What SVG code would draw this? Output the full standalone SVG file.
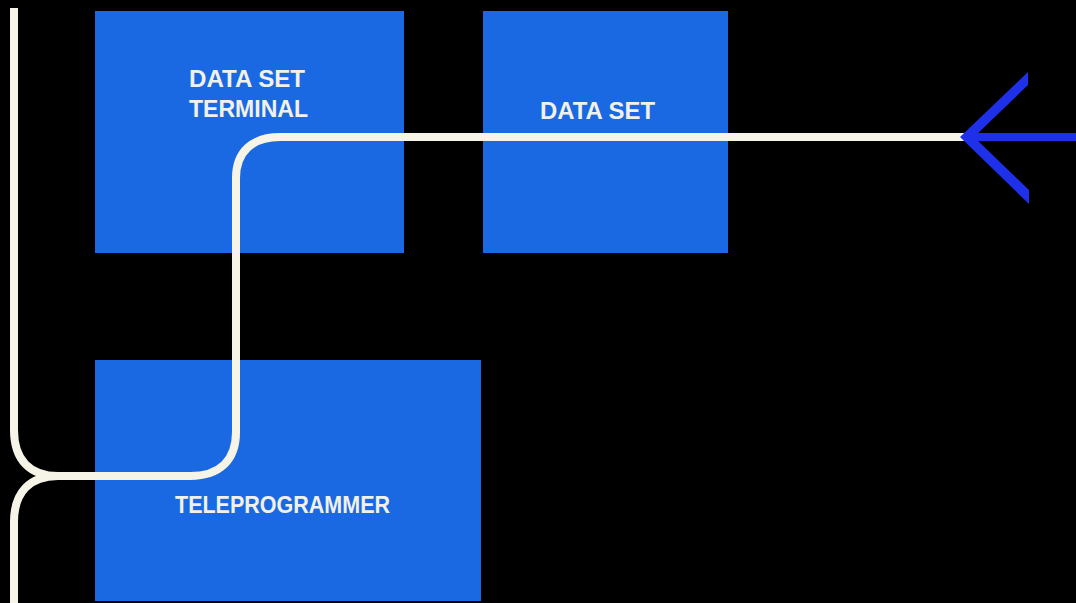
<svg xmlns="http://www.w3.org/2000/svg" width="1076" height="603" viewBox="0 0 1076 603">
<style>
.box{fill:#1b69e2}
.lbl{font-family:"Liberation Sans",Arial,sans-serif;font-weight:bold;font-size:24px;fill:#f2f1e8}
.wire{fill:none;stroke:#f6f4e6;stroke-width:8}
.blue{fill:none;stroke:#1e30ea;stroke-width:8}
</style>
<rect width="1076" height="603" fill="#000"/>
<g id="node-data-set-terminal">
<rect class="box" x="95" y="11" width="309" height="242"/>
<text class="lbl" x="189" y="87" textLength="116" lengthAdjust="spacingAndGlyphs">DATA SET</text>
<text class="lbl" x="189" y="117" textLength="119" lengthAdjust="spacingAndGlyphs">TERMINAL</text>
</g>
<g id="node-data-set">
<rect class="box" x="483" y="11" width="245" height="242"/>
<text class="lbl" x="540" y="119" textLength="115" lengthAdjust="spacingAndGlyphs">DATA SET</text>
</g>
<g id="node-teleprogrammer">
<rect class="box" x="95" y="360" width="386" height="241"/>
<text class="lbl" x="175" y="513" textLength="215" lengthAdjust="spacingAndGlyphs">TELEPROGRAMMER</text>
</g>
<g id="connectors">
<path class="wire" d="M14 8 V430 C14 460 30 476 58 476 H190 C220 476 236 460 236 432 V178 C236 152 252 137 280 137 H966"/>
<path class="wire" d="M58 476 C30 476 14 492 14 522 V603"/>
<path class="blue" d="M966 137 H1076"/>
<polygon fill="#1e30ea" points="960,137 1028,72 1028,85 974,137 1029,190 1029,204"/>
</g>
</svg>
